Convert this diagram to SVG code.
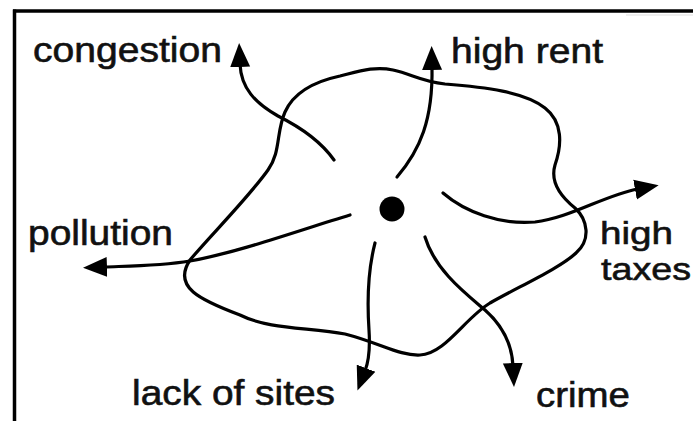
<svg xmlns="http://www.w3.org/2000/svg" width="693" height="421" viewBox="0 0 693 421">
  <style>
    .line { fill: none; stroke: #000; stroke-width: 3.2; stroke-linecap: round; stroke-linejoin: round; }
    .arrow { fill: none; stroke: #000; stroke-width: 3.2; stroke-linecap: round; marker-end: url(#ah); }
    .lbl { font-family: "Liberation Sans", Arial, sans-serif; font-size: 35px; fill: #111; stroke: #111; stroke-width: 0.6; }
    .sm { font-size: 32px; }
  </style>
  <defs>
    <marker id="ah" markerUnits="userSpaceOnUse" markerWidth="24" markerHeight="22" viewBox="0 0 24 22" refX="3" refY="11" orient="auto">
      <path d="M0,1 L24,11 L0,21 Z" fill="#000"/>
    </marker>
  </defs>
  <rect width="693" height="421" fill="#fff"/>
  <g id="frame">
    <line x1="14.5" y1="9.5" x2="14.5" y2="421" stroke="#000" stroke-width="3.5"/>
    <line x1="13" y1="11" x2="693" y2="11" stroke="#000" stroke-width="3.5"/>
    <line x1="626" y1="15" x2="693" y2="15" stroke="#ddd" stroke-width="1"/>
  </g>
  <g id="city">
    <path class="line" d="M190,260 C210,236 248,198 268,170 C281,152 276,132 285,112 C293,94 312,82 340,76 C360,71 375,66 393,70 C412,74 420,81 445,84 C485,87 525,92 545,108 C563,122 562,145 555,165 C550,182 560,196 575,208 C588,220 591,240 576,253 C560,268 520,286 490,303 C465,318 445,354 420,355 C400,356 380,343 345,334 C310,327 270,330 240,315 C200,300 172,287 190,260 Z"/>
    <circle cx="392" cy="209" r="12.5" fill="#000"/>
  </g>
  <g id="connectors">
    <path class="arrow" d="M334,160 C320,140 298,126 278,116 C255,103 241,88 240,64"/>
    <path class="arrow" d="M397,177 C420,150 433,120 432,67"/>
    <path class="arrow" d="M443,193 C465,212 500,225 535,222 C570,218 605,195 638,189"/>
    <path class="arrow" d="M350,215 C300,230 240,252 190,261 C160,266 130,266 104,267"/>
    <path class="arrow" d="M375,243 C368,270 367,300 369,330 C370,345 370,358 365,371"/>
    <path class="arrow" d="M425,237 C435,270 465,293 485,310 C503,326 512,345 513,366"/>
  </g>
  <g id="label-congestion"><text class="lbl" x="33" y="62" textLength="189" lengthAdjust="spacingAndGlyphs">congestion</text></g>
  <g id="label-high-rent"><text class="lbl" x="451" y="63" textLength="152" lengthAdjust="spacingAndGlyphs">high rent</text></g>
  <g id="label-pollution"><text class="lbl" x="28" y="245" textLength="145" lengthAdjust="spacingAndGlyphs">pollution</text></g>
  <g id="label-high-taxes">
    <text class="lbl sm" x="600" y="244" textLength="73" lengthAdjust="spacingAndGlyphs">high</text>
    <text class="lbl sm" x="601" y="280" textLength="90" lengthAdjust="spacingAndGlyphs">taxes</text>
  </g>
  <g id="label-lack-of-sites"><text class="lbl" x="132" y="405" textLength="203" lengthAdjust="spacingAndGlyphs">lack of sites</text></g>
  <g id="label-crime"><text class="lbl" x="536" y="407" textLength="94" lengthAdjust="spacingAndGlyphs">crime</text></g>
</svg>
